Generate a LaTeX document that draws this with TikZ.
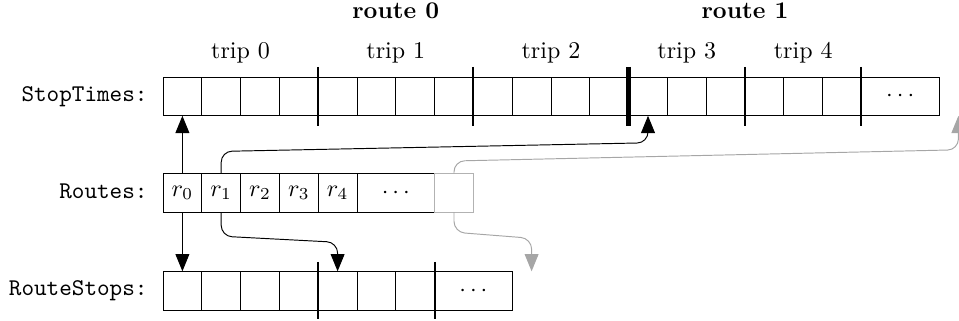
\documentclass[tikz,border=0pt]{standalone}
\usetikzlibrary{arrows.meta,calc}
\begin{document}
\begin{tikzpicture}[x=0.4167pt,y=-0.4167pt,
  cell/.style={draw=black, line width=0.4pt, minimum width=16.17pt, minimum height=16.17pt, inner sep=0pt, outer sep=0pt, anchor=center},
  widecell/.style={cell, minimum width=32.33pt},
  sepline/.style={line width=0.8pt},
  bigsep/.style={line width=1.9pt},
  arr/.style={-{Triangle[length=7.2pt,width=5.8pt]}, line width=0.4pt},
  garr/.style={arr, color=black!35},
  rnd/.style={rounded corners=4.5pt},
  lbl/.style={font=\ttfamily, anchor=base east, inner sep=0pt},
  toplbl/.style={anchor=base, inner sep=0pt},
  ]
\useasboundingbox (0,0) rectangle (959,321);

% row labels
\node[lbl] (lst) at (148,101.7) {StopTimes:};
\node[lbl] (lrt) at (148,198.3) {Routes:};
\node[lbl] (lrs) at (148,295.5) {RouteStops:};

% headers
\node[toplbl, font=\bfseries] (route0) at (395.8,18.3) {route 0};
\node[toplbl, font=\bfseries] (route1) at (745,18.3) {route 1};
\node[toplbl] (trip0) at (240.6,58.3) {trip 0};
\node[toplbl] (trip1) at (395.8,58.3) {trip 1};
\node[toplbl] (trip2) at (551,58.3) {trip 2};
\node[toplbl] (trip3) at (686.8,58.3) {trip 3};
\node[toplbl] (trip4) at (803.2,58.3) {trip 4};

% StopTimes
\foreach \k in {0,...,17} \node[cell] (st\k) at ({182.4+38.8*\k},96.4) {};
\node[widecell] (st18) at ({163+38.8*19},96.4) {$\cdots$};

% Routes
\foreach \k in {0,...,4} \node[cell] (rt\k) at ({182.4+38.8*\k},192.8) {$r_{\k}$};
\node[widecell] (rt5) at ({163+38.8*6},192.8) {$\cdots$};
\node[cell, draw=black!30] (rt7) at ({182.4+38.8*7},192.8) {};

% RouteStops
\foreach \k in {0,...,6} \node[cell] (rs\k) at ({182.4+38.8*\k},290.7) {};
\node[widecell] (rs7) at ({163+38.8*8},290.7) {$\cdots$};

% separators
\foreach \n in {st4,st8,st15,st18}
  \draw[sepline] ([yshift=4.17pt]\n.north west) -- ([yshift=-4.17pt]\n.south west);
\draw[bigsep] ([yshift=4.17pt]st12.north west) -- ([yshift=-4.17pt]st12.south west);
\foreach \n in {rs4,rs7}
  \draw[sepline] ([yshift=3.9pt]\n.north west) -- ([yshift=-3.9pt]\n.south west);

% free ends
\coordinate (stx) at ($(st18.south east)+(19.4,0)$);
\coordinate (rsx) at ($(rs7.north east)+(19.4,0)$);

% arrows
\draw[arr] (rt0.north) -- (st0.south);
\draw[arr] (rt0.south) -- (rs0.north);
\draw[arr, rnd] (rt1.north) -- ++(0,-22) -- ($(st12.south)+(0,27)$) -- (st12.south);
\draw[arr, rnd] (rt1.south) -- ++(0,24) -- ($(rs4.north)+(0,-29)$) -- (rs4.north);
\draw[garr, rnd] (rt7.north) -- ++(0,-12.4) -- ($(stx)+(0,34)$) -- (stx);
\draw[garr, rnd] (rt7.south) -- ++(0,20) -- ($(rsx)+(0,-33)$) -- (rsx);
\end{tikzpicture}
\end{document}
